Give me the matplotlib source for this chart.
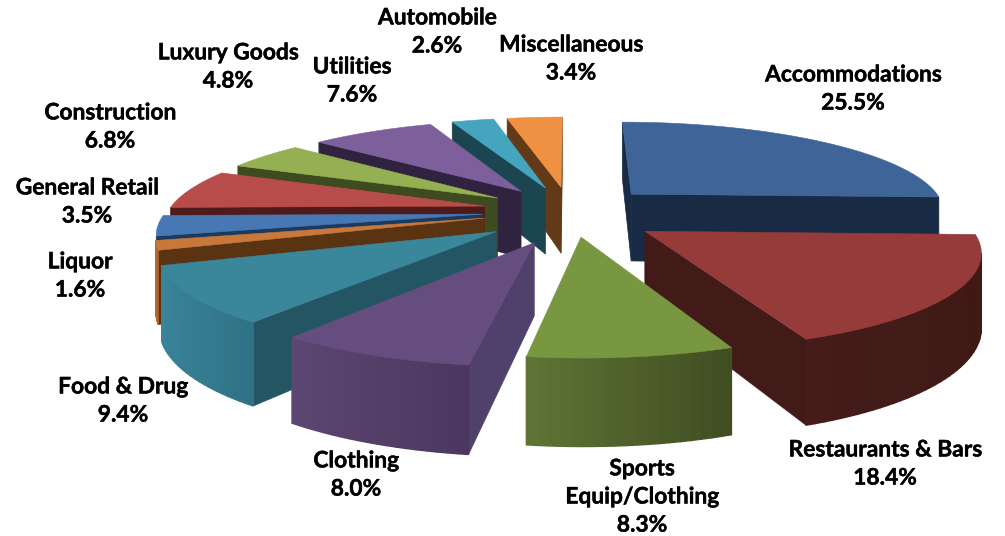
import numpy as np
import matplotlib
matplotlib.use("Agg")
import matplotlib.pyplot as plt
import matplotlib.patheffects as pe
from matplotlib.patches import Polygon
from matplotlib.colors import to_rgb

# Share of spending by category, clockwise from twelve o'clock
categories = ["Accommodations", "Restaurants & Bars", "Sports\nEquip/Clothing", "Clothing",
              "Food & Drug", "Liquor", "General Retail", "Construction",
              "Luxury Goods", "Utilities", "Automobile", "Miscellaneous"]
shares = [25.5, 18.4, 8.3, 8.0, 9.4, 1.6, 3.5, 6.8, 4.8, 7.6, 2.6, 3.4]

top_colors = ["#3F6497", "#953C3B", "#789740", "#664D7F", "#3A869B", "#C8783A",
              "#4878B4", "#B84C4A", "#94B052", "#7C5F9B", "#45A5BF", "#EE9142"]
cut_colors = ["#182A44", "#421A18", "#3F4D21", "#50406C", "#235563", "#5A3412",
              "#1B3A5E", "#4F1B1A", "#3E4A20", "#30233F", "#1C4552", "#623A18"]
rim_left = ["#182A44", "#451C1A", "#5F7436", "#5C4672", "#3A8399", "#B5692C",
            "#2F5A8C", "#7A2E2C", "#55672C", "#4A3860", "#2A6A7E", "#A5602A"]
rim_right = ["#182A44", "#401917", "#3F4D21", "#4A375E", "#2F7185", "#A55F28",
             "#2F5A8C", "#7A2E2C", "#55672C", "#4A3860", "#2A6A7E", "#A5602A"]

label_centres = [(853, 89), (885, 464), (642, 497), (356, 475), (123, 401), (80, 276),
                 (87, 202), (110, 127), (228, 67), (352, 81), (437, 32), (571, 59)]

# Extra pull toward the viewer for the slices nearest the front
pull_forward = [0, 18, 0, 24, 18, 0, 0, 0, 0, 0, 0, 0]

# Camera and pie geometry, in pixels at the depth of the pie centre
CX, CY = 570.0, 211.0
HORIZON_DROP = 520.0
DEPTH = 1830.0
RADIUS = 316.0
EXPLODE = 88.0
HEIGHT = 69.0


def project(x, y, z):
    """Perspective projection of pie space; y points away, z is height below the top face."""
    s = DEPTH / (DEPTH + y)
    return CX + x * s, CY - HORIZON_DROP + (HORIZON_DROP + z) * s


def quad_area(pts):
    x, y = np.array(pts).T
    return 0.5 * np.sum(x * np.roll(y, -1) - np.roll(x, -1) * y)


fig = plt.figure(figsize=(10.05, 5.36), dpi=100)
ax = fig.add_axes([0, 0, 1, 1])
ax.set_xlim(0, 1005)
ax.set_ylim(536, 0)
ax.axis("off")

fractions = np.array(shares) / np.sum(shares)
edges = np.concatenate([[0], np.cumsum(fractions)]) * 2 * np.pi
mids = (edges[:-1] + edges[1:]) / 2

order = np.argsort(-np.cos(mids))
z = 1
for i in order:
    a0, a1 = edges[i], edges[i + 1]
    ox, oy = EXPLODE * np.sin(mids[i]), EXPLODE * np.cos(mids[i]) - pull_forward[i]
    n = max(int((a1 - a0) / np.radians(1.5)), 2)
    th = np.linspace(a0, a1, n + 1)
    rx, ry = ox + RADIUS * np.sin(th), oy + RADIUS * np.cos(th)

    # Radial cut faces, culled when turned away from the camera
    for ax_end, sign in ((a0, 1), (a1, -1)):
        ex, ey = ox + RADIUS * np.sin(ax_end), oy + RADIUS * np.cos(ax_end)
        pts = [project(ox, oy, 0), project(ex, ey, 0), project(ex, ey, HEIGHT), project(ox, oy, HEIGHT)]
        if quad_area(pts) * sign < 0:
            ax.add_patch(Polygon(pts, closed=True, fc=cut_colors[i], ec=cut_colors[i], lw=0.5, zorder=z))
            z += 1

    # Outer rim, shaded strip by strip from one end of the arc to the other
    c0, c1 = np.array(to_rgb(rim_left[i])), np.array(to_rgb(rim_right[i]))
    xs, _ = project(rx, ry, 0)
    span = max(xs.max() - xs.min(), 1)
    for k in range(n):
        pts = [project(rx[k], ry[k], 0), project(rx[k + 1], ry[k + 1], 0),
               project(rx[k + 1], ry[k + 1], HEIGHT), project(rx[k], ry[k], HEIGHT)]
        if quad_area(pts) < 0:
            t = (0.5 * (xs[k] + xs[k + 1]) - xs.min()) / span
            col = c0 + (c1 - c0) * t
            ax.add_patch(Polygon(pts, closed=True, fc=col, ec=col, lw=1.0, zorder=z))
            z += 1

    # Top face
    px, py = project(np.r_[ox, rx], np.r_[oy, ry], 0)
    ax.add_patch(Polygon(np.c_[px, py], closed=True, fc=top_colors[i], ec=top_colors[i], lw=0.4, zorder=z))
    z += 1

for name, share, (lx, ly) in zip(categories, shares, label_centres):
    ax.text(lx, ly, f"{name}\n{share:.1f}%", ha="center", va="center", family="Lato",
            fontweight="bold", fontsize=16.4, color="black", linespacing=1.42, zorder=2000,
            path_effects=[pe.withStroke(linewidth=0.3, foreground="black")])

fig.savefig("out.png", dpi=100, facecolor="white")
